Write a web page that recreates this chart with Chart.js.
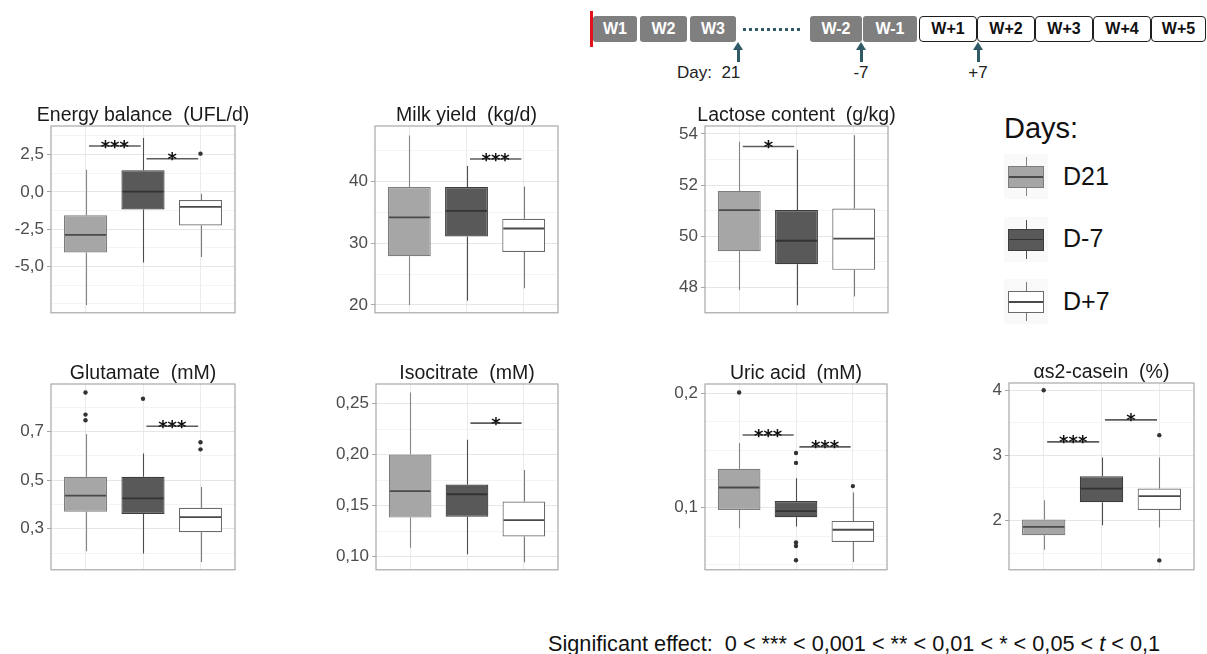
<!DOCTYPE html>
<html>
<head>
<meta charset="utf-8">
<script src="https://cdn.jsdelivr.net/npm/chart.js@4.4.1/dist/chart.umd.min.js"></script>
<style>
  body { margin: 0; background: #fff; }
  #page { position: relative; width: 1207px; height: 654px; overflow: hidden; font-family: 'Liberation Sans', Arial, sans-serif; }
  #page canvas { position: absolute; }
  .abs { position: absolute; }
  .wk { position: absolute; top: 16px; height: 26px; box-sizing: border-box; border-radius: 3px; font-weight: bold; font-size: 16px; line-height: 26px; text-align: center; }
  .wk.pre { background: #7f7f7f; color: #fff; }
  .wk.post { background: #fff; color: #111; border: 1.5px solid #1e1e1e; line-height: 23px; border-radius: 4px; }
  .arrow { position: absolute; top: 42px; width: 10px; height: 20px; }
  .arrow .head { width: 0; height: 0; border-left: 5px solid transparent; border-right: 5px solid transparent; border-bottom: 8px solid #2f5a66; }
  .arrow .shaft { margin-left: 3.5px; width: 3px; height: 12px; background: #2f5a66; }
  .daytxt { position: absolute; top: 64px; font-size: 17px; line-height: 17px; color: #222; white-space: pre; }
  .legkey { position: absolute; left: 1004px; width: 44px; height: 45px; background: #f9f9f9; }
  .legtxt { position: absolute; left: 1063px; font-size: 25px; line-height: 25px; color: #111; }
</style>
</head>
<body>
<div id="page">
  <!-- timeline -->
  <div class="abs" style="left:590px;top:11px;width:3px;height:36px;background:#e3121b;"></div>
  <div class="wk pre" style="left:593px;width:44px;">W1</div>
  <div class="wk pre" style="left:640px;width:47px;">W2</div>
  <div class="wk pre" style="left:690px;width:46px;">W3</div>
  <div class="abs" style="left:743px;top:28px;width:57px;height:3px;background:repeating-linear-gradient(to right,#2f5a66 0 3px,transparent 3px 6px);"></div>
  <div class="wk pre" style="left:810px;width:52px;">W-2</div>
  <div class="wk pre" style="left:863px;width:54px;">W-1</div>
  <div class="wk post" style="left:919px;width:58px;">W+1</div>
  <div class="wk post" style="left:977px;width:58px;">W+2</div>
  <div class="wk post" style="left:1035px;width:58px;">W+3</div>
  <div class="wk post" style="left:1093px;width:58px;">W+4</div>
  <div class="wk post" style="left:1151px;width:55px;">W+5</div>
  <div class="arrow" style="left:733px;"><div class="head"></div><div class="shaft"></div></div>
  <div class="arrow" style="left:856px;"><div class="head"></div><div class="shaft"></div></div>
  <div class="arrow" style="left:973px;"><div class="head"></div><div class="shaft"></div></div>
  <div class="daytxt" style="left:677px;">Day:  21</div>
  <div class="daytxt" style="left:841px;width:40px;text-align:center;">-7</div>
  <div class="daytxt" style="left:958px;width:40px;text-align:center;">+7</div>

  <!-- legend -->
  <div class="abs" style="left:1004px;top:114px;font-size:29px;line-height:29px;color:#111;">Days:</div>
  <div id="legend"></div>

  <!-- footnote -->
  <div class="abs" style="left:548px;top:633px;font-size:21.7px;line-height:21.7px;color:#111;white-space:pre;">Significant effect:  0 &lt; *** &lt; 0,001 &lt; ** &lt; 0,01 &lt; * &lt; 0,05 &lt; <i>t</i> &lt; 0,1</div>
</div>
<script>
const groups = ['D21', 'D-7', 'D+7'];

// box stats per group: [lower whisker, Q1, median, Q3, upper whisker]
const energyStats = [[-7.57, -4.05, -2.88, -1.57, 1.49], [-4.73, -1.18, 0.02, 1.45, 3.61], [-4.35, -2.25, -1.0, -0.55, -0.13]];
const energyOutliers = [[], [], [2.56]];
const energySig = [[1, 2, 3.07, '***'], [2, 3, 2.22, '*']];
const energyTicks = [-5, -2.5, 0, 2.5];

const milkStats = [[20.0, 27.9, 34.2, 39.13, 47.5], [20.7, 31.1, 35.26, 39.13, 42.55], [22.7, 28.6, 32.4, 33.97, 39.2]];
const milkOutliers = [[], [], []];
const milkSig = [[2, 3, 43.67, '***']];
const milkTicks = [20, 30, 40];

const lactoseStats = [[47.89, 49.41, 51.02, 51.77, 53.69], [47.3, 48.9, 49.82, 51.02, 53.38], [47.64, 48.68, 49.9, 51.08, 53.95]];
const lactoseOutliers = [[], [], []];
const lactoseSig = [[1, 2, 53.51, '*']];
const lactoseTicks = [48, 50, 52, 54];

const glutamateStats = [[0.207, 0.370, 0.436, 0.514, 0.69], [0.198, 0.361, 0.425, 0.514, 0.61], [0.163, 0.286, 0.348, 0.386, 0.472]];
const glutamateOutliers = [[0.861, 0.77, 0.747], [0.835], [0.656, 0.627]];
const glutamateSig = [[2, 3, 0.722, '***']];
const glutamateTicks = [0.3, 0.5, 0.7];

const isocitrateStats = [[0.1087, 0.1382, 0.1642, 0.200, 0.2608], [0.1022, 0.1389, 0.1611, 0.1706, 0.2145], [0.0944, 0.1197, 0.1358, 0.154, 0.1849]];
const isocitrateOutliers = [[], [], []];
const isocitrateSig = [[2, 3, 0.2308, '*']];
const isocitrateTicks = [0.10, 0.15, 0.20, 0.25];

const uricStats = [[0.0821, 0.098, 0.1176, 0.1339, 0.1565], [0.0835, 0.0917, 0.097, 0.1058, 0.1256], [0.0526, 0.070, 0.0807, 0.0884, 0.1132]];
const uricOutliers = [[0.2006], [0.1477, 0.1391, 0.0695, 0.0665, 0.054], [0.1188]];
const uricSig = [[1, 2, 0.1634, '***'], [2, 3, 0.1531, '***']];
const uricTicks = [0.1, 0.2];

const caseinStats = [[1.552, 1.773, 1.903, 2.014, 2.312], [1.928, 2.28, 2.49, 2.68, 2.966], [1.894, 2.16, 2.375, 2.49, 2.966]];
const caseinOutliers = [[4.0], [], [3.31, 1.387]];
const caseinSig = [[1, 2, 3.207, '***'], [2, 3, 3.545, '*']];
const caseinTicks = [2, 3, 4];

const fills = ['#a6a6a6', '#595959', '#ffffff'];
const outlines = ['#7d7d7d', '#3d3d3d', '#6b6b6b'];
const whiskerColors = ['#858585', '#4d4d4d', '#7a7a7a'];
const medianColors = ['#4a4a4a', '#333333', '#4a4a4a'];

// plot area in page pixels: [left, top, right, bottom]
const panels = [
    { title: 'Energy balance  (UFL/d)', stats: energyStats, outliers: energyOutliers, sig: energySig, ticks: energyTicks, dec: 1, step: 1.25, min: -8.09, max: 4.41, box: [51, 126, 235, 324] },
    { title: 'Milk yield  (kg/d)', stats: milkStats, outliers: milkOutliers, sig: milkSig, ticks: milkTicks, dec: 0, step: 5, min: 18.73, max: 49.03, box: [375, 126, 558, 324] },
    { title: 'Lactose content  (g/kg)', stats: lactoseStats, outliers: lactoseOutliers, sig: lactoseSig, ticks: lactoseTicks, dec: 0, step: 1, min: 47.0, max: 54.31, box: [705, 126, 888, 324] },
    { title: 'Glutamate  (mM)', stats: glutamateStats, outliers: glutamateOutliers, sig: glutamateSig, ticks: glutamateTicks, dec: 1, step: 0.1, min: 0.131, max: 0.896, box: [51, 384, 235, 581] },
    { title: 'Isocitrate  (mM)', stats: isocitrateStats, outliers: isocitrateOutliers, sig: isocitrateSig, ticks: isocitrateTicks, dec: 2, step: 0.025, min: 0.087, max: 0.2692, box: [376, 384, 558, 581] },
    { title: 'Uric acid  (mM)', stats: uricStats, outliers: uricOutliers, sig: uricSig, ticks: uricTicks, dec: 1, step: 0.025, min: 0.0457, max: 0.208, box: [705, 384, 887, 581] },
    { title: 'αs2-casein  (%)', stats: caseinStats, outliers: caseinOutliers, sig: caseinSig, ticks: caseinTicks, dec: 0, step: 0.5, min: 1.243, max: 4.111, box: [1009, 383, 1194, 581] }
];

const page = document.getElementById('page');
const AXIS_W = 60;
const TITLE_H = 26;
const PAD_R = 24;
const SANS = "'Liberation Sans', Arial, sans-serif";

function isMajor(p, v) {
    return p.ticks.some(t => Math.abs(t - v) < 1e-9);
}

function gridValues(p) {
    const out = [];
    for (let n = Math.ceil(p.min / p.step - 1e-9); n * p.step <= p.max + 1e-9; n++) {
        out.push(+(n * p.step).toFixed(6));
    }
    return out;
}

function boxPlugin(p) {
    return {
        id: 'boxExtras',
        beforeDatasetsDraw(chart) {
            const { ctx, scales: { x, y } } = chart;
            ctx.save();
            ctx.lineWidth = 1.1;
            p.stats.forEach((s, i) => {
                const px = Math.round(x.getPixelForValue(i + 1)) + 0.5;
                ctx.strokeStyle = whiskerColors[i];
                ctx.beginPath();
                ctx.moveTo(px, y.getPixelForValue(s[0]));
                ctx.lineTo(px, y.getPixelForValue(s[1]));
                ctx.moveTo(px, y.getPixelForValue(s[3]));
                ctx.lineTo(px, y.getPixelForValue(s[4]));
                ctx.stroke();
            });
            ctx.restore();
        },
        afterDatasetsDraw(chart) {
            const { ctx, chartArea: a, scales: { x, y } } = chart;
            const bars = chart.getDatasetMeta(0).data;
            ctx.save();
            // medians
            ctx.lineWidth = 1.8;
            p.stats.forEach((s, i) => {
                const b = bars[i];
                const py = y.getPixelForValue(s[2]);
                ctx.strokeStyle = medianColors[i];
                ctx.beginPath();
                ctx.moveTo(b.x - b.width / 2 + 1, py);
                ctx.lineTo(b.x + b.width / 2 - 1, py);
                ctx.stroke();
            });
            // significance brackets
            ctx.font = 'bold 18px "DejaVu Sans"';
            ctx.textAlign = 'center';
            ctx.textBaseline = 'alphabetic';
            ctx.fillStyle = '#111';
            p.sig.forEach(([g1, g2, v, mark]) => {
                const xa = x.getPixelForValue(g1 + 0.06);
                const xb = x.getPixelForValue(g2 - 0.04);
                const py = y.getPixelForValue(v);
                ctx.strokeStyle = '#5c5c5c';
                ctx.lineWidth = 1.6;
                ctx.beginPath();
                ctx.moveTo(xa, py);
                ctx.lineTo(xb, py);
                ctx.stroke();
                ctx.fillText(mark, (xa + xb) / 2, py + 6.5);
            });
            // panel border
            ctx.strokeStyle = '#a8a8a8';
            ctx.lineWidth = 1.2;
            ctx.strokeRect(a.left, a.top, a.right - a.left, a.bottom - a.top);
            // panel title, centred over the plot and free to run past it
            ctx.font = '19.5px ' + SANS;
            ctx.fillStyle = '#1a1a1a';
            ctx.fillText(p.title, (a.left + a.right) / 2, a.top - 5.5);
            ctx.restore();
        }
    };
}

function makePanel(p) {
    const [x0, y0, x1, y1] = p.box;
    const left = x0 - AXIS_W;
    const top = y0 - TITLE_H;
    const c = document.createElement('canvas');
    c.width = x1 - left + PAD_R;
    c.height = y1 - top + 2;
    c.style.left = left + 'px';
    c.style.top = top + 'px';
    page.appendChild(c);

    const grid = gridValues(p);

    return new Chart(c, {
        type: 'bar',
        data: {
            datasets: [
                {
                    type: 'bar',
                    label: 'box',
                    data: p.stats.map((s, i) => ({ x: i + 1, y: [s[1], s[3]] })),
                    backgroundColor: fills,
                    borderColor: outlines,
                    borderWidth: 1.2,
                    borderSkipped: false,
                    categoryPercentage: 1,
                    barPercentage: 0.75
                },
                {
                    type: 'scatter',
                    label: 'outliers',
                    data: p.outliers.flatMap((vals, i) => vals.map(v => ({ x: i + 1, y: v }))),
                    pointRadius: 2.2,
                    pointBackgroundColor: '#333',
                    pointBorderWidth: 0
                }
            ]
        },
        options: {
            responsive: false,
            animation: false,
            layout: { padding: { left: 0, right: PAD_R, top: TITLE_H, bottom: 2 } },
            plugins: {
                legend: { display: false },
                tooltip: { enabled: false },
                title: { display: false }
            },
            scales: {
                x: {
                    type: 'linear',
                    min: 0.4,
                    max: 3.6,
                    offset: false,
                    afterBuildTicks: s => { s.ticks = [1, 2, 3].map(v => ({ value: v })); },
                    ticks: { display: false },
                    grid: { color: '#ebebeb', lineWidth: 1, drawTicks: false, offset: false },
                    border: { display: false }
                },
                y: {
                    type: 'linear',
                    min: p.min,
                    max: p.max,
                    beginAtZero: false,
                    afterBuildTicks: s => { s.ticks = grid.map(v => ({ value: v })); },
                    afterFit: s => { s.width = AXIS_W; },
                    ticks: {
                        autoSkip: false,
                        padding: 3,
                        color: '#4d4d4d',
                        font: { family: SANS, size: 17 },
                        callback: v => isMajor(p, v) ? v.toFixed(p.dec).replace('.', ',') : ''
                    },
                    grid: {
                        color: ctx => isMajor(p, ctx.tick.value) ? '#e6e6e6' : '#efefef',
                        lineWidth: ctx => isMajor(p, ctx.tick.value) ? 1 : 0.7,
                        tickLength: 4,
                        tickWidth: 1,
                        tickColor: ctx => isMajor(p, ctx.tick.value) ? '#a8a8a8' : 'rgba(0,0,0,0)'
                    },
                    border: { display: false }
                }
            }
        },
        plugins: [boxPlugin(p)]
    });
}

panels.forEach(makePanel);

// legend keys
const legend = document.getElementById('legend');
groups.forEach((g, i) => {
    const t = 154 + i * 62.5;
    const key = document.createElement('div');
    key.className = 'legkey';
    key.style.top = t + 'px';
    key.innerHTML =
        `<div class="abs" style="left:21.5px;top:3px;width:1.3px;height:39px;background:${whiskerColors[i]};"></div>` +
        `<div class="abs" style="left:4px;top:12px;width:36px;height:22px;box-sizing:border-box;background:${fills[i]};border:1.2px solid ${outlines[i]};"></div>` +
        `<div class="abs" style="left:5px;top:22px;width:34px;height:1.8px;background:${medianColors[i]};"></div>`;
    legend.appendChild(key);
    const txt = document.createElement('div');
    txt.className = 'legtxt';
    txt.style.top = (t + 9.8) + 'px';
    txt.textContent = g;
    legend.appendChild(txt);
});
</script>
</body>
</html>
